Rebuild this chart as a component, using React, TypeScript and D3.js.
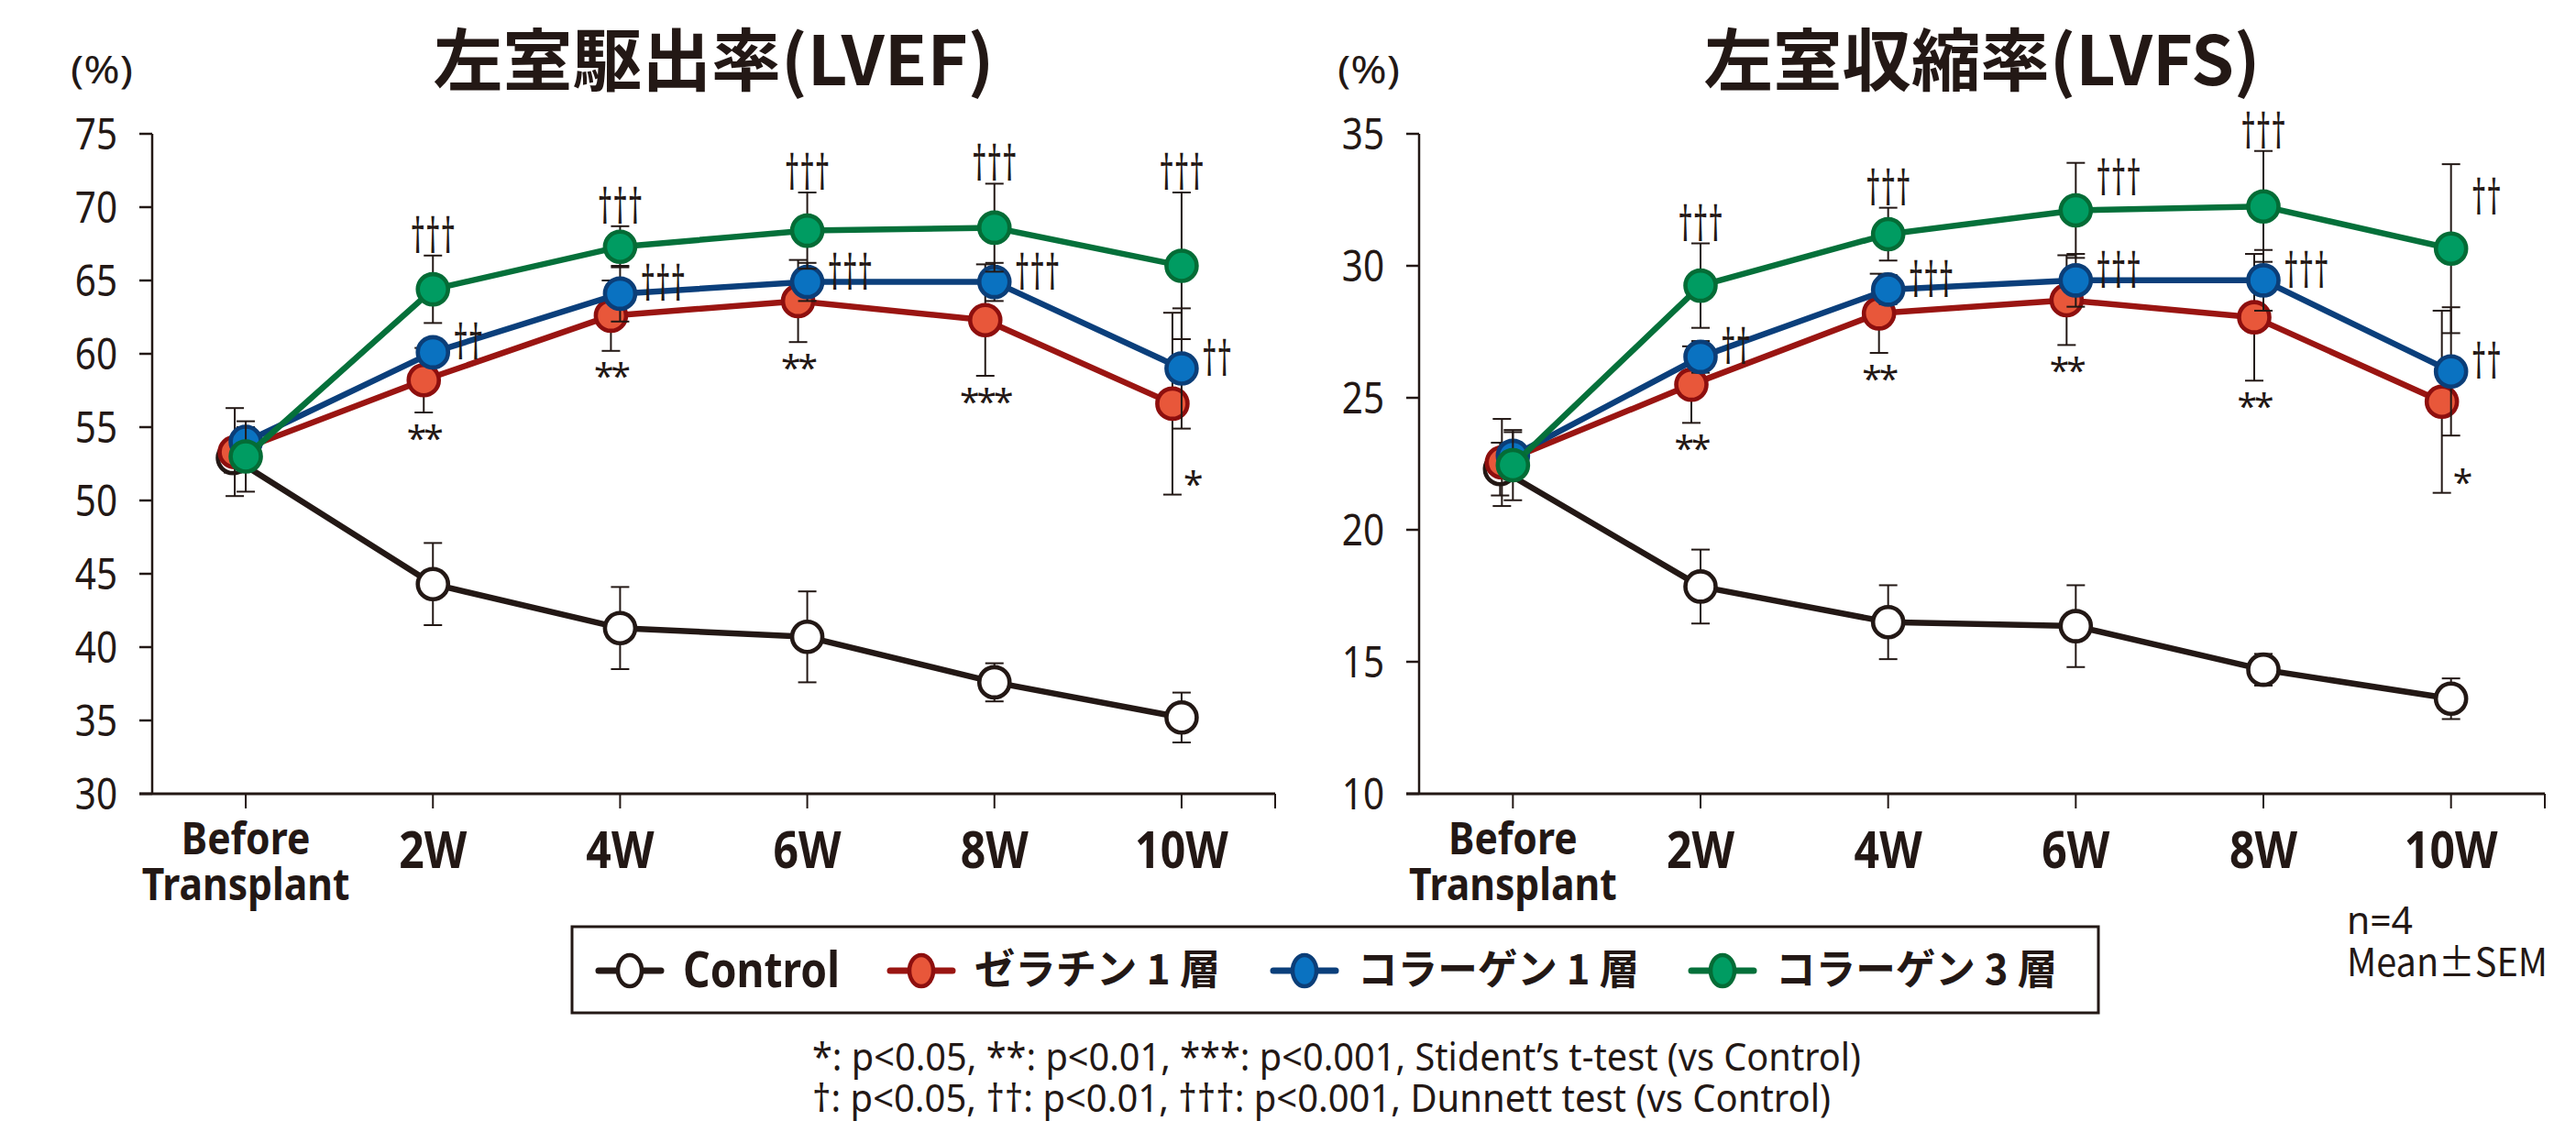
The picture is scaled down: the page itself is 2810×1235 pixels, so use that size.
import React from 'react';
import * as d3 from 'd3';

const INK = '#231815';
const LATIN = "'Noto Sans', 'Open Sans', sans-serif";
const CJK = "'Noto Sans CJK JP', 'Noto Sans', sans-serif";

// categories / series
const categories = ['Before Transplant', '2W', '4W', '6W', '8W', '10W'];
const seriesNames = ['Control', 'ゼラチン 1 層', 'コラーゲン 1 層', 'コラーゲン 3 層'];

// LVEF (%), mean and SEM
const lvefControl = [52.9, 44.3, 41.3, 40.7, 37.6, 35.2];
const lvefControlErr = [1.0, 2.8, 2.8, 3.1, 1.3, 1.7];
const lvefGelatin1 = [53.3, 58.2, 62.6, 63.6, 62.3, 56.6];
const lvefGelatin1Err = [3.0, 2.2, 2.4, 2.8, 3.8, 6.2];
const lvefCollagen1 = [54.0, 60.1, 64.1, 64.9, 64.9, 59.0];
const lvefCollagen1Err = [1.0, 0.8, 1.9, 1.3, 1.3, 4.1];
const lvefCollagen3 = [53.0, 64.4, 67.3, 68.4, 68.6, 66.0];
const lvefCollagen3Err = [2.4, 2.3, 1.4, 2.6, 3.0, 5.0];

// LVFS (%), mean and SEM
const lvfsControl = [22.3, 17.85, 16.5, 16.35, 14.7, 13.6];
const lvfsControlErr = [1.0, 1.4, 1.4, 1.55, 0.6, 0.77];
const lvfsGelatin1 = [22.55, 25.5, 28.2, 28.7, 28.05, 24.85];
const lvfsGelatin1Err = [1.65, 1.45, 1.5, 1.7, 2.4, 3.45];
const lvfsCollagen1 = [22.8, 26.55, 29.1, 29.45, 29.45, 26.0];
const lvfsCollagen1Err = [0.9, 0.6, 0.55, 1.0, 1.15, 2.43];
const lvfsCollagen3 = [22.45, 29.25, 31.2, 32.1, 32.25, 30.65];
const lvfsCollagen3Err = [1.33, 1.6, 1.0, 1.8, 2.1, 3.2];

// significance marks
const lvefStars = ['', '**', '**', '**', '***', '*'];
const lvefDaggersC1 = ['', '††', '†††', '†††', '†††', '††'];
const lvefDaggersC3 = ['', '†††', '†††', '†††', '†††', '†††'];
const lvfsStars = ['', '**', '**', '**', '**', '*'];
const lvfsDaggersC1 = ['', '††', '†††', '†††', '†††', '††'];
const lvfsDaggersC3 = ['', '†††', '†††', '†††', '†††', '††'];

const lvefTicks = [30, 35, 40, 45, 50, 55, 60, 65, 70, 75];
const lvfsTicks = [10, 15, 20, 25, 30, 35];

const footnotes = [
  '*: p<0.05, **: p<0.01, ***: p<0.001, Stident’s t-test (vs Control)',
  '†: p<0.05, ††: p<0.01, †††: p<0.001, Dunnett test (vs Control)',
];

const styles = [
  { fill: '#ffffff', stroke: INK, line: INK, dx: 0, dxFirst: -14 },
  { fill: '#e8573a', stroke: '#8e0f0e', line: '#9a1512', dx: -10, dxFirst: -12 },
  { fill: '#0a72c1', stroke: '#0b3e78', line: '#0b3f7b', dx: 0, dxFirst: 0 },
  { fill: '#009c62', stroke: '#046c36', line: '#05703a', dx: 0, dxFirst: 0 },
];

const Y0 = 866;
const Y1 = 146;
const STAR_FS = 39;
const DAG_FS = 52;

// tall, narrow dagger marks (glyph spans ~0.14em..0.79em above baseline)
const Dagger = ({ x, base, anchor, text }: { x: number; base: number; anchor: string; text: string }) => (
  <text
    transform={`translate(${x},${base}) scale(0.62,1)`}
    textAnchor={anchor}
    fontFamily={LATIN}
    fontSize={DAG_FS}
    fill={INK}
  >
    {text}
  </text>
);

type PanelProps = {
  left: number;
  right: number;
  domain: [number, number];
  ticks: number[];
  title: string;
  titleWidth: number;
  values: number[][];
  errs: number[][];
  stars: string[];
  daggersC1: string[];
  daggersC3: string[];
  c3Side: boolean[];
};

const Panel = (p: PanelProps) => {
  const x = d3.scaleBand<string>().domain(categories).range([p.left, p.right]).padding(0);
  const y = d3.scaleLinear().domain(p.domain).range([Y0, Y1]);
  const cx = (i: number) => (x(categories[i]) as number) + x.bandwidth() / 2;
  const px = (s: number, i: number) => cx(i) + (i === 0 ? styles[s].dxFirst : styles[s].dx);
  const last = categories.length - 1;
  const dagBaseFromCenter = (center: number) => center + 24;
  const dagBaseFromBottom = (bottom: number) => bottom + 7;

  return (
    <g>
      {/* title and unit */}
      <text
        x={(p.left + p.right) / 2}
        y={93}
        textAnchor="middle"
        fontFamily={CJK}
        fontWeight={700}
        fontSize={74}
        fill={INK}
        textLength={p.titleWidth}
        lengthAdjust="spacingAndGlyphs"
      >
        {p.title}
      </text>
      <text x={p.left - 89} y={91} fontFamily={LATIN} fontSize={42} fill={INK} textLength={68} lengthAdjust="spacingAndGlyphs">
        (%)
      </text>

      {/* axes */}
      <line x1={p.left} x2={p.left} y1={Y1} y2={Y0} stroke={INK} strokeWidth={2.5} />
      <line x1={p.left - 14} x2={p.right} y1={Y0} y2={Y0} stroke={INK} strokeWidth={3} />
      {p.ticks.map((t) => (
        <g key={t}>
          <line x1={p.left - 14} x2={p.left} y1={y(t)} y2={y(t)} stroke={INK} strokeWidth={2.5} />
          <text
            transform={`translate(${p.left - 38},${y(t) + 17}) scale(0.86,1)`}
            textAnchor="end"
            fontFamily={LATIN}
            fontSize={47}
            fill={INK}
          >
            {t}
          </text>
        </g>
      ))}
      {categories.map((c, i) => (
        <g key={c}>
          <line x1={cx(i)} x2={cx(i)} y1={Y0} y2={Y0 + 16} stroke={INK} strokeWidth={2} />
          {i === 0 ? (
            <text transform={`translate(${cx(i)},0) scale(0.87,1)`} textAnchor="middle" fontFamily={LATIN} fontWeight={700} fontSize={49} fill={INK}>
              <tspan x={0} y={932}>Before</tspan>
              <tspan x={0} y={982}>Transplant</tspan>
            </text>
          ) : (
            <text transform={`translate(${cx(i)},947) scale(0.86,1)`} textAnchor="middle" fontFamily={LATIN} fontWeight={700} fontSize={56} fill={INK}>
              {c}
            </text>
          )}
        </g>
      ))}
      <line x1={p.right} x2={p.right} y1={Y0} y2={Y0 + 16} stroke={INK} strokeWidth={2} />

      {/* series: error bars, line, markers */}
      {p.values.map((vals, s) => {
        const st = styles[s];
        const line = d3
          .line<number>()
          .x((_, i) => px(s, i))
          .y((d) => y(d));
        return (
          <g key={s}>
            {vals.map((v, i) => {
              const e = p.errs[s][i];
              const xx = px(s, i);
              return (
                <g key={i} stroke={INK} strokeWidth={2}>
                  <line x1={xx} x2={xx} y1={y(v + e)} y2={y(v - e)} />
                  <line x1={xx - 10} x2={xx + 10} y1={y(v + e)} y2={y(v + e)} />
                  <line x1={xx - 10} x2={xx + 10} y1={y(v - e)} y2={y(v - e)} />
                </g>
              );
            })}
            <path d={line(vals) || ''} fill="none" stroke={st.line} strokeWidth={6.5} strokeLinejoin="round" />
            {vals.map((v, i) => (
              <circle key={i} cx={px(s, i)} cy={y(v)} r={16.5} fill={st.fill} stroke={st.stroke} strokeWidth={4.6} />
            ))}
          </g>
        );
      })}

      {/* significance marks */}
      {p.stars.map((m, i) => {
        if (!m) return null;
        const v = p.values[1][i];
        const e = p.errs[1][i];
        const xx = px(1, i);
        const side = i === last;
        const cy = side ? y(v - e) - 20 : y(v - e) + 19;
        return (
          <text
            key={'s' + i}
            x={side ? xx + 12 : xx}
            y={cy + STAR_FS * 0.58}
            textAnchor={side ? 'start' : 'middle'}
            fontFamily={LATIN}
            fontSize={STAR_FS}
            letterSpacing={-3}
            fill={INK}
          >
            {m}
          </text>
        );
      })}
      {p.daggersC1.map((m, i) => {
        if (!m) return null;
        const xx = px(2, i);
        const cy = y(p.values[2][i]) - 16;
        return <Dagger key={'b' + i} x={xx + 22} base={dagBaseFromCenter(cy)} anchor="start" text={m} />;
      })}
      {p.daggersC3.map((m, i) => {
        if (!m) return null;
        const v = p.values[3][i];
        const e = p.errs[3][i];
        const xx = px(3, i);
        if (p.c3Side[i]) {
          const cy = (y(v + e) + y(v)) / 2 - 15;
          return <Dagger key={'g' + i} x={xx + 22} base={dagBaseFromCenter(cy)} anchor="start" text={m} />;
        }
        return <Dagger key={'g' + i} x={xx} base={dagBaseFromBottom(y(v + e) - 10)} anchor="middle" text={m} />;
      })}
    </g>
  );
};

const legendMarkerX = [687, 1005, 1423, 1879];
const legendTextWidth = [171, 268, 307, 307];

const Legend = () => (
  <g>
    <rect x={624} y={1011} width={1665} height={94} fill="none" stroke={INK} strokeWidth={3} />
    {seriesNames.map((name, s) => {
      const mx = legendMarkerX[s];
      const st = styles[s];
      return (
        <g key={name}>
          <line x1={mx - 34} x2={mx + 34} y1={1059} y2={1059} stroke={st.line} strokeWidth={7} strokeLinecap="round" />
          <ellipse cx={mx} cy={1059} rx={13} ry={17} fill={st.fill} stroke={st.stroke} strokeWidth={4.5} />
          <text
            x={mx + 58}
            y={s === 0 ? 1077 : 1074}
            fontFamily={s === 0 ? LATIN : CJK}
            fontWeight={700}
            fontSize={s === 0 ? 54 : 45}
            fill={INK}
            textLength={legendTextWidth[s]}
            lengthAdjust="spacingAndGlyphs"
          >
            {name}
          </text>
        </g>
      );
    })}
  </g>
);

export default function App() {
  return (
    <svg
      width={2810}
      height={1235}
      viewBox="0 0 2810 1235"
      style={{ position: 'absolute', left: 0, top: 0, background: '#fff' }}
    >
      <rect width={2810} height={1235} fill="#fff" />
      <Panel
        left={166}
        right={1391}
        domain={[30, 75]}
        ticks={lvefTicks}
        title="左室駆出率(LVEF)"
        titleWidth={612}
        values={[lvefControl, lvefGelatin1, lvefCollagen1, lvefCollagen3]}
        errs={[lvefControlErr, lvefGelatin1Err, lvefCollagen1Err, lvefCollagen3Err]}
        stars={lvefStars}
        daggersC1={lvefDaggersC1}
        daggersC3={lvefDaggersC3}
        c3Side={[false, false, false, false, false, false]}
      />
      <Panel
        left={1548}
        right={2776}
        domain={[10, 35]}
        ticks={lvfsTicks}
        title="左室収縮率(LVFS)"
        titleWidth={607}
        values={[lvfsControl, lvfsGelatin1, lvfsCollagen1, lvfsCollagen3]}
        errs={[lvfsControlErr, lvfsGelatin1Err, lvfsCollagen1Err, lvfsCollagen3Err]}
        stars={lvfsStars}
        daggersC1={lvfsDaggersC1}
        daggersC3={lvfsDaggersC3}
        c3Side={[false, false, false, true, false, true]}
      />
      <Legend />
      <text x={2560} y={1019} fontFamily={LATIN} fontSize={42} fill={INK} textLength={72} lengthAdjust="spacingAndGlyphs">
        n=4
      </text>
      <text x={2560} y={1065} fontFamily={CJK} fontSize={42} fill={INK} textLength={219} lengthAdjust="spacingAndGlyphs">
        Mean±SEM
      </text>
      {footnotes.map((f, i) => (
        <text
          key={i}
          x={886}
          y={1168 + i * 45}
          fontFamily={LATIN}
          fontSize={42}
          fill={INK}
          textLength={i === 0 ? 1144 : 1111}
          lengthAdjust="spacingAndGlyphs"
        >
          {f}
        </text>
      ))}
    </svg>
  );
}
